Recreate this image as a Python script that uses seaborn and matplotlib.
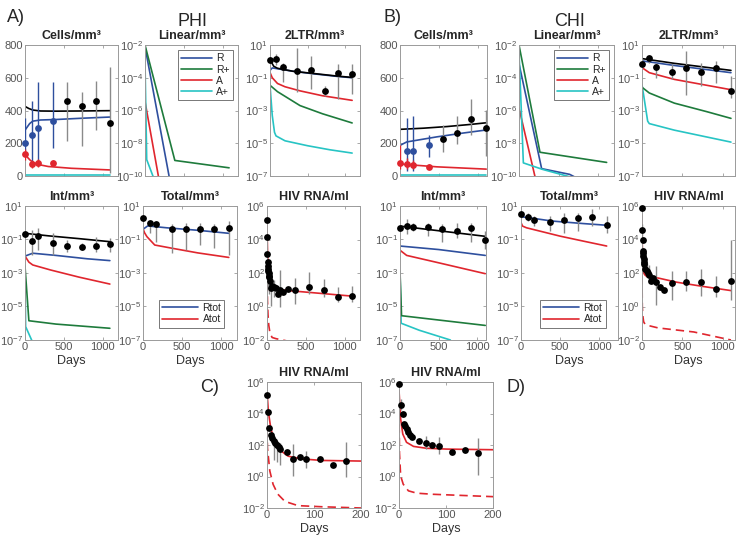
import numpy as np
import matplotlib
matplotlib.use('Agg')
import matplotlib.pyplot as plt
from matplotlib.ticker import NullLocator
from matplotlib.lines import Line2D
import seaborn as sns

# visit days of the long-term data points
visits = [0, 84, 168, 365, 547, 730, 912, 1095]

# ================= A) PHI =================
# Cells/mm3 (linear axis)
a_cells_bdot = [202, 253, 293, 334]
a_cells_bdot_lo = [150, 71, 91, 172]
a_cells_bdot_hi = [354, 455, 577, 577]
a_cells_rdot = [132, 71, 77, 81]
a_cells_rdot_lo = [100, 48, 55, 68]
a_cells_rdot_hi = [165, 100, 105, 95]
a_cells_kdot = [461, 429, 459, 322]
a_cells_kdot_lo = [212, 182, 283, 20]
a_cells_kdot_hi = [577, 516, 581, 668]
a_cells_k_t = [0, 50, 100, 200, 400, 700, 1095]
a_cells_k = [425, 412, 403, 397, 396, 397, 399]
a_cells_b_t = [0, 30, 60, 100, 200, 400, 700, 1095]
a_cells_b = [280, 300, 320, 335, 342, 345, 352, 360]
a_cells_r_t = [0, 30, 70, 150, 300, 600, 1095]
a_cells_r = [140, 115, 95, 72, 58, 47, 37]
a_cells_c_t = [0, 1095]
a_cells_c = [5, 5]

# Linear/mm3 (log10 values)
a_lin_R_t = [0, 330]
a_lin_R = [-2.1, -10.5]
a_lin_Rp_t = [0, 385, 1085]
a_lin_Rp = [-2.0, -9.05, -9.5]
a_lin_A_t = [0, 180]
a_lin_A = [-5.45, -10.2]
a_lin_Ap_t = [0, 22, 110]
a_lin_Ap = [-3.0, -9.0, -10.1]

# 2LTR/mm3 (log10)
a_2ltr_dot = [0.09, 0.12, -0.33, -0.6, -0.54, -1.8, -0.74, -0.8]
a_2ltr_lo = [-0.1, -0.2, -1.25, -1.87, -1.7, -2.1, -2.3, -2.0]
a_2ltr_hi = [0.2, 0.43, -0.1, 0.8, 0.3, -1.5, -0.13, -0.13]
a_2ltr_k_t = [0, 50, 100, 300, 600, 900, 1095]
a_2ltr_k = [0.1, -0.3, -0.42, -0.6, -0.75, -0.9, -0.98]
a_2ltr_R_t = [0, 30, 100, 300, 600, 900, 1095]
a_2ltr_R = [-0.55, -0.4, -0.45, -0.6, -0.77, -0.92, -1.0]
a_2ltr_A_t = [0, 30, 100, 200, 400, 700, 1095]
a_2ltr_A = [-0.68, -1.0, -1.35, -1.55, -1.8, -2.1, -2.38]
a_2ltr_Rp_t = [0, 100, 400, 700, 1095]
a_2ltr_Rp = [-1.46, -1.85, -2.7, -3.2, -3.76]
a_2ltr_Ap_t = [0, 30, 60, 80, 200, 500, 800, 1095]
a_2ltr_Ap = [-1.46, -3.3, -4.33, -4.55, -4.85, -5.15, -5.4, -5.6]

# Int/mm3 (log10)
a_int_dot = [-0.67, -1.07, -0.77, -1.19, -1.39, -1.43, -1.39, -1.27]
a_int_lo = [-0.85, -1.93, -1.63, -1.93, -1.73, -1.6, -1.73, -1.73]
a_int_hi = [-0.5, -0.43, -0.33, -0.63, -1.03, -1.2, -0.83, -0.93]
a_int_k_t = [0, 300, 700, 1095]
a_int_k = [-0.63, -0.78, -0.95, -1.13]
a_int_R_t = [0, 100, 400, 800, 1095]
a_int_R = [-1.99, -1.82, -1.95, -2.15, -2.26]
a_int_A_t = [0, 50, 100, 330, 700, 1095]
a_int_A = [-1.99, -2.35, -2.52, -2.82, -3.25, -3.66]
a_int_Rp_t = [0, 50, 400, 1095]
a_int_Rp = [-2.6, -5.85, -6.05, -6.3]
a_int_Ap_t = [0, 8, 95]
a_int_Ap = [-2.55, -6.2, -7.1]

# Total/mm3 (log10)
a_tot_dot = [0.26, -0.04, -0.09, -0.39, -0.35, -0.39, -0.35, -0.33]
a_tot_lo = [0.1, -0.6, -1.13, -1.83, -1.63, -1.33, -1.53, -1.93]
a_tot_hi = [0.4, 0.1, -0.04, -0.1, 0.0, 0.0, -0.1, 0.1]
a_tot_R_t = [0, 60, 300, 700, 1095]
a_tot_R = [-0.39, -0.19, -0.3, -0.45, -0.63]
a_tot_A_t = [0, 20, 50, 150, 380, 700, 1095]
a_tot_A = [-0.35, -0.6, -0.83, -1.33, -1.53, -1.8, -2.07]

# HIV RNA/ml, first 200 days (panel C) and long term (log10)
c_t = [0, 2, 5, 9, 11, 14, 18, 21, 25, 28, 42, 56, 70, 84, 112, 140, 168]
c_dot = [5.16, 4.12, 3.11, 2.65, 2.44, 2.23, 2.13, 2.02, 1.85, 1.77, 1.54, 1.12, 1.23, 1.14, 1.08, 0.72, 0.97]
c_lo = [np.nan] * 5 + [1.02, np.nan, 0.93, np.nan, 0.72, np.nan, 0.03, np.nan, 0.55, np.nan, np.nan, -0.03]
c_hi = [np.nan] * 5 + [2.44, np.nan, 2.13, np.nan, 2.13, np.nan, 2.06, np.nan, 1.6, np.nan, np.nan, 2.19]
a_hiv_late_t = [210, 270, 365, 547, 730, 912, 1095]
a_hiv_late = [0.84, 1.04, 1.0, 1.14, 0.96, 0.54, 0.64]
a_hiv_late_lo = [np.nan, np.nan, 0.15, 0.74, 0.54, 0.25, 0.25]
a_hiv_late_hi = [np.nan, np.nan, 1.73, 2.03, 1.63, 1.18, 1.24]
a_hiv_fit_t = [0, 3, 8, 16, 31, 45, 73, 116, 200, 400, 700, 1095]
a_hiv_fit = [5.37, 4.1, 3.07, 2.23, 1.6, 1.29, 1.12, 1.02, 0.98, 0.9, 0.78, 0.62]
a_hiv_lat_t = [0, 1, 6, 13, 23, 38, 66, 116, 200, 300]
a_hiv_lat = [3.0, 1.8, 0.35, -0.5, -1.12, -1.58, -1.85, -1.92, -2.0, -2.1]

# ================= B) CHI =================
b_cells_bdot_t = [84, 168, 365]
b_cells_bdot = [152, 152, 187]
b_cells_bdot_lo = [30, 30, 114]
b_cells_bdot_hi = [353, 364, 250]
b_cells_rdot = [77, 73, 69, 56]
b_cells_rdot_lo = [42, 45, 45, 40]
b_cells_rdot_hi = [187, 110, 100, 75]
b_cells_kdot = [229, 264, 349, 291]
b_cells_kdot_lo = [146, 198, 249, 125]
b_cells_kdot_hi = [312, 364, 472, 405]
b_cells_k_t = [0, 300, 600, 900, 1100]
b_cells_k = [285, 292, 302, 315, 325]
b_cells_b_t = [0, 86, 470, 800, 1100]
b_cells_b = [187, 208, 239, 262, 281]
b_cells_r_t = [0, 470, 1100]
b_cells_r = [73, 56, 42]
b_cells_c_t = [0, 1100]
b_cells_c = [4, 4]

b_lin_R_t = [0, 286, 640, 720]
b_lin_R = [-3.14, -9.55, -9.9, -10.1]
b_lin_Rp_t = [0, 265, 1107]
b_lin_Rp = [-2.0, -8.55, -9.17]
b_lin_A_t = [0, 205]
b_lin_A = [-5.85, -10.1]
b_lin_Ap_t = [0, 55, 300, 680]
b_lin_Ap = [-2.4, -9.2, -9.6, -10.1]

b_2ltr_dot = [-0.18, 0.19, -0.32, -0.63, -0.38, -0.63, -0.43, -1.79]
b_2ltr_lo = [-0.3, -0.1, -1.0, -1.1, -2.04, -1.52, -1.31, -2.24]
b_2ltr_hi = [0.0, 0.34, -0.07, -0.18, 0.65, -0.07, 0.03, -0.9]
b_2ltr_k_t = [0, 400, 1100]
b_2ltr_k = [0.17, -0.12, -0.55]
b_2ltr_R_t = [0, 400, 1100]
b_2ltr_R = [0.03, -0.25, -0.69]
b_2ltr_A_t = [0, 90, 400, 1100]
b_2ltr_A = [-0.38, -0.69, -1.1, -1.73]
b_2ltr_Rp_t = [0, 90, 400, 800, 1100]
b_2ltr_Rp = [-1.58, -1.93, -2.55, -3.07, -3.48]
b_2ltr_Ap_t = [0, 70, 90, 400, 1100]
b_2ltr_Ap = [-1.42, -3.65, -3.8, -4.2, -4.93]

b_int_dot = [-0.3, -0.2, -0.24, -0.24, -0.4, -0.5, -0.34, -1.02]
b_int_lo = [-0.45, -0.65, -0.5, -0.81, -1.12, -0.92, -1.12, -1.54]
b_int_hi = [-0.15, 0.22, 0.0, 0.01, -0.09, 0.01, 0.01, -0.5]
b_int_k_t = [0, 1100]
b_int_k = [-0.2, -0.81]
b_int_R_t = [0, 500, 1100]
b_int_R = [-1.39, -1.6, -1.95]
b_int_A_t = [0, 86, 470, 1100]
b_int_A = [-1.64, -1.95, -2.36, -3.04]
b_int_Rp_t = [0, 20, 1100]
b_int_Rp = [-2.9, -5.55, -6.13]
b_int_Ap_t = [0, 15, 250, 650]
b_int_Ap = [-2.9, -6.0, -6.42, -7.0]

b_tot_dot = [0.53, 0.36, 0.15, 0.07, 0.18, 0.26, 0.36, -0.13]
b_tot_lo = [0.3, 0.1, -0.2, -0.5, -0.6, -0.5, -0.2, -0.6]
b_tot_hi = [0.7, 0.6, 0.4, 0.4, 0.6, 0.6, 0.8, 0.4]
b_tot_R_t = [0, 100, 400, 800, 1095]
b_tot_R = [0.36, 0.3, 0.1, -0.05, -0.15]
b_tot_A_t = [0, 20, 70, 190, 500, 800, 1095]
b_tot_A = [0.01, -0.2, -0.3, -0.44, -0.8, -1.1, -1.39]

d_t = [0, 4, 8, 11, 13, 16, 20, 23, 27, 43, 57, 71, 85, 112, 141, 168]
d_dot = [5.89, 4.55, 3.98, 3.34, 3.19, 3.02, 2.81, 2.64, 2.53, 2.23, 2.13, 2.0, 1.91, 1.53, 1.68, 1.49]
d_lo = [np.nan, 4.2] + [np.nan] * 8 + [1.74, np.nan, 1.43, np.nan, np.nan, 0.09]
d_hi = [np.nan, 4.9] + [np.nan] * 8 + [2.6, np.nan, 2.49, np.nan, np.nan, 2.43]
b_hiv_late_t = [223, 273, 365, 547, 730, 912, 1095]
b_hiv_late = [1.15, 1.01, 1.39, 1.49, 1.49, 1.05, 1.55]
b_hiv_late_lo = [np.nan, np.nan, 0.36, 0.9, 0.65, 0.55, 0.36]
b_hiv_late_hi = [np.nan, np.nan, 2.14, 2.1, 2.24, 1.84, 4.0]
b_hiv_fit_t = [0, 3.5, 8, 16, 31, 59, 102, 200, 430, 750, 1100]
b_hiv_fit = [5.47, 3.66, 2.7, 2.17, 1.91, 1.79, 1.74, 1.7, 1.45, 1.2, 0.95]
b_hiv_lat_t = [0, 1, 3.5, 9, 20, 38, 73, 200, 640, 1100]
b_hiv_lat = [5.0, 1.5, 0.04, -0.49, -0.91, -1.06, -1.13, -1.28, -1.52, -2.0]

# colours
C_R, C_RP, C_A, C_AP = '#2e4f9e', '#1e7b3c', '#e0262e', '#27c4c4'
GRAY = '#8a8a8a'

sns.set_style('ticks')
plt.rcParams['font.family'] = ['Liberation Sans', 'DejaVu Sans']

W, H = 737, 543
fig = plt.figure(figsize=(W / 100, H / 100), dpi=100)


def make_ax(x0, x1, y0, y1):
    return fig.add_axes([x0 / W, 1 - y1 / H, (x1 - x0) / W, (y1 - y0) / H])


def style(ax, title, xmax, xticks, log, ylim, yticks, xlab=True, days=True):
    if log:
        ax.set_yscale('log')
    ax.set_xlim(0, xmax)
    ax.set_ylim(*ylim)
    ax.set_xticks(xticks)
    ax.set_yticks(yticks)
    ax.yaxis.set_minor_locator(NullLocator())
    ax.tick_params(direction='in', length=2.5, width=0.6, top=True, right=True,
                   colors='#9a9a9a', labelcolor='#555555', labelsize=8, pad=1.5)
    for s in ax.spines.values():
        s.set_color('#9a9a9a')
        s.set_linewidth(0.7)
    ax.set_title(title, fontsize=9, fontweight='bold', pad=4)
    if not xlab:
        ax.set_xticklabels([])
    elif days:
        ax.set_xlabel('Days', fontsize=9, color='#333333', labelpad=2)


def curve(ax, t, v, color, log=True, dashed=False):
    y = np.power(10.0, v) if log else np.asarray(v, float)
    kw = dict(linestyle=(0, (5, 3))) if dashed else {}
    sns.lineplot(x=t, y=y, ax=ax, color=color, linewidth=1.2, estimator=None,
                 sort=False, legend=False, **kw)


def dots(ax, t, v, lo, hi, color='k', bar=GRAY, log=True):
    f = (lambda a: np.power(10.0, np.asarray(a, float))) if log else (lambda a: np.asarray(a, float))
    lo_v, hi_v = f(lo), f(hi)
    ok = ~np.isnan(lo_v)
    ax.vlines(np.asarray(t)[ok], lo_v[ok], hi_v[ok], color=bar, linewidth=1.0, zorder=3)
    sns.scatterplot(x=t, y=f(v), ax=ax, color=color, s=24, linewidth=0, zorder=4,
                    clip_on=False, legend=False)


def legend(ax, handles, labels, loc, pad, hl):
    leg = ax.legend(handles, labels, loc=loc, fontsize=7.5, frameon=True, fancybox=False,
                    edgecolor='#555555', handlelength=hl, labelspacing=0.12,
                    borderpad=0.3, handletextpad=0.4, borderaxespad=pad)
    leg.get_frame().set_linewidth(0.7)


LOG_SMALL = ((1e-7, 10), [1e-7, 1e-5, 1e-3, 1e-1, 10])
LOG_LIN = ((1e-10, 1e-2), [1e-10, 1e-8, 1e-6, 1e-4, 1e-2])
LOG_HIV = ((1e-2, 1e6), [1e-2, 1, 1e2, 1e4, 1e6])
X_LONG = [0, 500, 1000]

R1, R2, R3 = (45, 176), (206, 340), (382, 508)

lin_handles = [Line2D([], [], color=c, lw=1.2) for c in (C_R, C_RP, C_A, C_AP)]
lin_labels = ['R', 'R+', 'A', 'A+']
tot_handles = [Line2D([], [], color=c, lw=1.2) for c in (C_R, C_A)]
tot_labels = ['Rtot', 'Atot']

# ---------- A ----------
ax = make_ax(25, 118, *R1)
curve(ax, a_cells_c_t, a_cells_c, C_AP, log=False)
curve(ax, a_cells_r_t, a_cells_r, C_A, log=False)
curve(ax, a_cells_b_t, a_cells_b, C_R, log=False)
curve(ax, a_cells_k_t, a_cells_k, 'k', log=False)
dots(ax, visits[:4], a_cells_bdot, a_cells_bdot_lo, a_cells_bdot_hi, C_R, C_R, log=False)
dots(ax, visits[:4], a_cells_rdot, a_cells_rdot_lo, a_cells_rdot_hi, C_A, C_A, log=False)
dots(ax, visits[4:], a_cells_kdot, a_cells_kdot_lo, a_cells_kdot_hi, log=False)
style(ax, 'Cells/mm³', 1200, X_LONG, False, (0, 800), [0, 200, 400, 600, 800], xlab=False)

ax = make_ax(145, 238, *R1)
curve(ax, a_lin_R_t, a_lin_R, C_R)
curve(ax, a_lin_Rp_t, a_lin_Rp, C_RP)
curve(ax, a_lin_A_t, a_lin_A, C_A)
curve(ax, a_lin_Ap_t, a_lin_Ap, C_AP)
style(ax, 'Linear/mm³', 1200, X_LONG, True, *LOG_LIN, xlab=False)
legend(ax, lin_handles, lin_labels, 'upper right', 0.5, 3.0)

ax = make_ax(270, 360, *R1)
curve(ax, a_2ltr_Ap_t, a_2ltr_Ap, C_AP)
curve(ax, a_2ltr_Rp_t, a_2ltr_Rp, C_RP)
curve(ax, a_2ltr_A_t, a_2ltr_A, C_A)
curve(ax, a_2ltr_R_t, a_2ltr_R, C_R)
curve(ax, a_2ltr_k_t, a_2ltr_k, 'k')
dots(ax, visits, a_2ltr_dot, a_2ltr_lo, a_2ltr_hi)
style(ax, '2LTR/mm³', 1200, X_LONG, True, *LOG_SMALL, xlab=False)

ax = make_ax(25, 118, *R2)
curve(ax, a_int_Ap_t, a_int_Ap, C_AP)
curve(ax, a_int_Rp_t, a_int_Rp, C_RP)
curve(ax, a_int_A_t, a_int_A, C_A)
curve(ax, a_int_R_t, a_int_R, C_R)
curve(ax, a_int_k_t, a_int_k, 'k')
dots(ax, visits, a_int_dot, a_int_lo, a_int_hi)
style(ax, 'Int/mm³', 1200, X_LONG, True, *LOG_SMALL)

ax = make_ax(143, 237, *R2)
curve(ax, a_tot_A_t, a_tot_A, C_A)
curve(ax, a_tot_R_t, a_tot_R, C_R)
dots(ax, visits, a_tot_dot, a_tot_lo, a_tot_hi)
style(ax, 'Total/mm³', 1200, X_LONG, True, *LOG_SMALL)
legend(ax, tot_handles, tot_labels, 'lower right', 1.2, 3.5)

ax = make_ax(267, 360, *R2)
curve(ax, a_hiv_lat_t, a_hiv_lat, C_A, dashed=True)
curve(ax, a_hiv_fit_t, a_hiv_fit, C_A)
dots(ax, c_t, c_dot, c_lo, c_hi)
dots(ax, a_hiv_late_t, a_hiv_late, a_hiv_late_lo, a_hiv_late_hi)
style(ax, 'HIV RNA/ml', 1200, X_LONG, True, *LOG_HIV, days=False)

# ---------- B ----------
ax = make_ax(400, 487, *R1)
curve(ax, b_cells_c_t, b_cells_c, C_AP, log=False)
curve(ax, b_cells_r_t, b_cells_r, C_A, log=False)
curve(ax, b_cells_b_t, b_cells_b, C_R, log=False)
curve(ax, b_cells_k_t, b_cells_k, 'k', log=False)
dots(ax, b_cells_bdot_t, b_cells_bdot, b_cells_bdot_lo, b_cells_bdot_hi, C_R, C_R, log=False)
dots(ax, visits[:4], b_cells_rdot, b_cells_rdot_lo, b_cells_rdot_hi, C_A, C_A, log=False)
dots(ax, visits[4:], b_cells_kdot, b_cells_kdot_lo, b_cells_kdot_hi, log=False)
style(ax, 'Cells/mm³', 1110, X_LONG, False, (0, 800), [0, 200, 400, 600, 800], xlab=False)

ax = make_ax(519, 614, *R1)
curve(ax, b_lin_R_t, b_lin_R, C_R)
curve(ax, b_lin_Rp_t, b_lin_Rp, C_RP)
curve(ax, b_lin_A_t, b_lin_A, C_A)
curve(ax, b_lin_Ap_t, b_lin_Ap, C_AP)
style(ax, 'Linear/mm³', 1200, X_LONG, True, *LOG_LIN, xlab=False)
legend(ax, lin_handles, lin_labels, 'upper right', 0.5, 3.0)

ax = make_ax(642, 735, *R1)
curve(ax, b_2ltr_Ap_t, b_2ltr_Ap, C_AP)
curve(ax, b_2ltr_Rp_t, b_2ltr_Rp, C_RP)
curve(ax, b_2ltr_A_t, b_2ltr_A, C_A)
curve(ax, b_2ltr_R_t, b_2ltr_R, C_R)
curve(ax, b_2ltr_k_t, b_2ltr_k, 'k')
dots(ax, visits, b_2ltr_dot, b_2ltr_lo, b_2ltr_hi)
style(ax, '2LTR/mm³', 1150, X_LONG, True, *LOG_SMALL, xlab=False)

ax = make_ax(400, 486, *R2)
curve(ax, b_int_Ap_t, b_int_Ap, C_AP)
curve(ax, b_int_Rp_t, b_int_Rp, C_RP)
curve(ax, b_int_A_t, b_int_A, C_A)
curve(ax, b_int_R_t, b_int_R, C_R)
curve(ax, b_int_k_t, b_int_k, 'k')
dots(ax, visits, b_int_dot, b_int_lo, b_int_hi)
style(ax, 'Int/mm³', 1110, X_LONG, True, *LOG_SMALL, days=False)

ax = make_ax(521, 618, *R2)
curve(ax, b_tot_A_t, b_tot_A, C_A)
curve(ax, b_tot_R_t, b_tot_R, C_R)
dots(ax, visits, b_tot_dot, b_tot_lo, b_tot_hi)
style(ax, 'Total/mm³', 1240, X_LONG, True, *LOG_SMALL)
legend(ax, tot_handles, tot_labels, 'lower right', 1.2, 3.5)

ax = make_ax(642, 735, *R2)
curve(ax, b_hiv_lat_t, b_hiv_lat, C_A, dashed=True)
curve(ax, b_hiv_fit_t, b_hiv_fit, C_A)
dots(ax, d_t, d_dot, d_lo, d_hi)
dots(ax, b_hiv_late_t, b_hiv_late, b_hiv_late_lo, b_hiv_late_hi)
style(ax, 'HIV RNA/ml', 1150, X_LONG, True, *LOG_HIV)

# ---------- C and D: first 200 days ----------
ax = make_ax(267, 361, *R3)
curve(ax, a_hiv_lat_t, a_hiv_lat, C_A, dashed=True)
curve(ax, a_hiv_fit_t, a_hiv_fit, C_A)
dots(ax, c_t, c_dot, c_lo, c_hi)
style(ax, 'HIV RNA/ml', 200, [0, 100, 200], True, *LOG_HIV)

ax = make_ax(399, 493, *R3)
curve(ax, b_hiv_lat_t, b_hiv_lat, C_A, dashed=True)
curve(ax, b_hiv_fit_t, b_hiv_fit, C_A)
dots(ax, d_t, d_dot, d_lo, d_hi)
style(ax, 'HIV RNA/ml', 200, [0, 100, 200], True, *LOG_HIV)

# panel letters and group headers
for txt, x, y in [('A)', 7, 18), ('B)', 384, 18), ('C)', 200, 387), ('D)', 506, 387)]:
    fig.text(x / W, 1 - y / H, txt, fontsize=13, ha='left', va='center')
for txt, x in [('PHI', 193), ('CHI', 570)]:
    fig.text(x / W, 1 - 21 / H, txt, fontsize=13, ha='center', va='center')

fig.savefig('out.png', dpi=100)
